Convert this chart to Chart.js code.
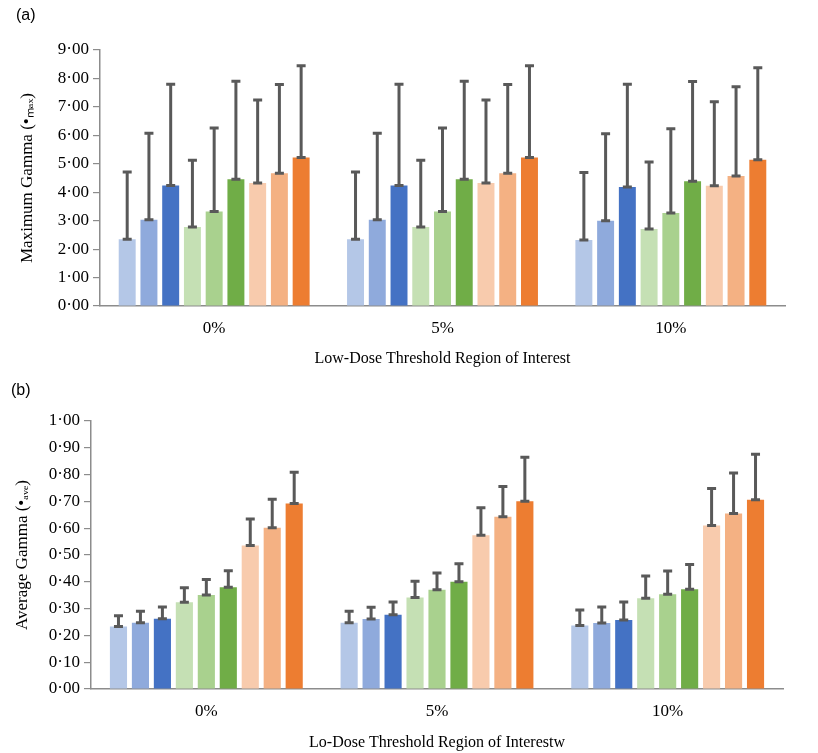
<!DOCTYPE html>
<html>
<head>
<meta charset="utf-8">
<script src="https://cdn.jsdelivr.net/npm/chart.js@4/dist/chart.umd.min.js"></script>
<style>
  body { margin: 0; background: #fff; width: 818px; height: 753px; position: relative; overflow: hidden; }
  .panel { position: absolute; left: 0; width: 818px; }
  .tag { position: absolute; font-family: "Liberation Sans", Arial, sans-serif; font-size: 16px; color: #000; }
</style>
</head>
<body>
<div class="panel" style="top:0;height:375px"><canvas id="chartA" width="818" height="375"></canvas></div>
<div class="panel" style="top:375px;height:378px"><canvas id="chartB" width="818" height="378"></canvas></div>
<div class="tag" style="left:16px;top:6px">(a)</div>
<div class="tag" style="left:11px;top:381px">(b)</div>
<script>
"use strict";
const categories = ["0%", "5%", "10%"];
const seriesNames = ["Series 1", "Series 2", "Series 3", "Series 4", "Series 5", "Series 6", "Series 7", "Series 8", "Series 9"];
const seriesColors = ["#B4C7E7", "#8FAADC", "#4472C4", "#C5E0B4", "#A9D18E", "#70AD47", "#F8CBAD", "#F4B183", "#ED7D31"];

// (a) maximum gamma: mean per series for 0%, 5%, 10%
const maxMean = [
  [2.35, 2.35, 2.32],
  [3.03, 3.03, 3.00],
  [4.24, 4.24, 4.18],
  [2.78, 2.78, 2.71],
  [3.32, 3.32, 3.27],
  [4.46, 4.46, 4.39],
  [4.32, 4.32, 4.23],
  [4.67, 4.67, 4.57],
  [5.22, 5.22, 5.14]
];
// upper end of error bar
const maxUpper = [
  [4.71, 4.71, 4.69],
  [6.07, 6.07, 6.06],
  [7.80, 7.80, 7.80],
  [5.12, 5.12, 5.06],
  [6.26, 6.26, 6.23],
  [7.90, 7.90, 7.89],
  [7.24, 7.24, 7.18],
  [7.79, 7.79, 7.71],
  [8.45, 8.45, 8.38]
];

// (b) average gamma
const aveMean = [
  [0.233, 0.247, 0.237],
  [0.247, 0.261, 0.246],
  [0.262, 0.277, 0.257],
  [0.324, 0.341, 0.339],
  [0.351, 0.370, 0.354],
  [0.380, 0.400, 0.372],
  [0.535, 0.574, 0.610],
  [0.602, 0.643, 0.655],
  [0.692, 0.701, 0.706]
];
const aveUpper = [
  [0.273, 0.290, 0.295],
  [0.290, 0.305, 0.306],
  [0.306, 0.325, 0.325],
  [0.378, 0.402, 0.422],
  [0.409, 0.433, 0.440],
  [0.441, 0.467, 0.465],
  [0.634, 0.676, 0.748],
  [0.708, 0.756, 0.806],
  [0.809, 0.865, 0.876]
];

const serif = "'Liberation Serif', 'Times New Roman', serif";
const axisGrey = "#8c8c8c";

// draws the upward error bars
const errorBars = {
  id: "errorBars",
  afterDatasetsDraw(chart) {
    const ctx = chart.ctx;
    const y = chart.scales.y;
    ctx.save();
    ctx.strokeStyle = "#595959";
    ctx.lineWidth = 3;
    chart.data.datasets.forEach((ds, i) => {
      const meta = chart.getDatasetMeta(i);
      meta.data.forEach((bar, j) => {
        const y0 = y.getPixelForValue(ds.data[j]);
        const y1 = y.getPixelForValue(ds.upper[j]);
        const x = bar.x;
        ctx.beginPath();
        ctx.moveTo(x, y0);
        ctx.lineTo(x, y1);
        ctx.moveTo(x - 4.5, y1);
        ctx.lineTo(x + 4.5, y1);
        ctx.moveTo(x - 4.5, y0);
        ctx.lineTo(x + 4.5, y0);
        ctx.stroke();
      });
    });
    ctx.restore();
  }
};

function makeChart(id, means, uppers, opt) {
  const datasets = seriesNames.map((name, i) => ({
    label: name,
    data: means[i],
    upper: uppers[i],
    backgroundColor: seriesColors[i],
    borderWidth: 0,
    categoryPercentage: 0.857,
    barPercentage: 0.78
  }));
  return new Chart(document.getElementById(id), {
    type: "bar",
    data: { labels: categories, datasets: datasets },
    plugins: [errorBars],
    options: {
      responsive: false,
      animation: false,
      layout: { padding: { left: 0, right: opt.right, top: opt.top, bottom: 0 } },
      plugins: { legend: { display: false }, tooltip: { enabled: false } },
      scales: {
        x: {
          grid: { display: false, drawTicks: false },
          border: { color: axisGrey, width: 1.5 },
          ticks: { color: "#000", font: { family: serif, size: 17 }, padding: 12 },
          title: { display: true, text: opt.xTitle, color: "#000", font: { family: serif, size: 16 }, padding: { top: 10, bottom: opt.xTitleBottom } },
          afterFit(scale) { scale.height = opt.xHeight; }
        },
        y: {
          min: 0,
          max: opt.max,
          grid: { drawOnChartArea: false, drawTicks: true, tickLength: 7, color: axisGrey, lineWidth: 1.2 },
          border: { color: axisGrey, width: 1.5 },
          ticks: {
            stepSize: opt.step,
            color: "#000",
            font: { family: serif, size: 17 },
            padding: 4,
            callback: (v) => v.toFixed(2).replace(".", "\u00B7")
          },
          title: { display: true, text: opt.yTitle, color: "#000", font: { family: serif, size: 17 }, padding: { top: opt.yTitleLeft, bottom: 6 } },
          afterFit(scale) { scale.width = opt.yWidth; }
        }
      }
    }
  });
}

makeChart("chartA", maxMean, maxUpper, {
  max: 9, step: 1, top: 50, right: 33, xHeight: 69, yWidth: 100, yTitleLeft: 17, xTitleBottom: 7,
  xTitle: "Low-Dose Threshold Region of Interest",
  yTitle: "Maximum Gamma (\u2022\u2098\u2090\u2093)"
});
makeChart("chartB", aveMean, aveUpper, {
  max: 1, step: 0.1, top: 46, right: 35, xHeight: 64, yWidth: 91, yTitleLeft: 12, xTitleBottom: 1,
  xTitle: "Lo-Dose Threshold Region of Interestw",
  yTitle: "Average Gamma (\u2022\u2090\u1D65\u2091)"
});
</script>
</body>
</html>
